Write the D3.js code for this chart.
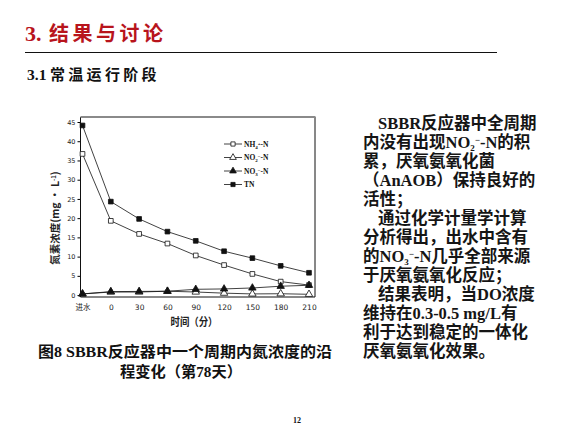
<!DOCTYPE html>
<html>
<head>
<meta charset="utf-8">
<script src="https://cdn.jsdelivr.net/npm/d3@7"></script>
<style>
html, body { margin: 0; padding: 0; background: #fff; }
svg { display: block; }
text { font-family: "Liberation Serif", "Noto Sans CJK SC", serif; }
</style>
</head>
<body>
<div id="slide"></div>
<script>
// values (mg/L)
const categories = ["进水", "0", "30", "60", "90", "120", "150", "180", "210"];
const nh4 = [36.7, 19.3, 15.9, 13.4, 10.3, 7.8, 5.5, 3.5, 2.6];
const no2 = [0.3, 0.8, 0.8, 1.0, 0.8, 0.5, 0.3, 0.35, 0.2];
const no3 = [0.3, 0.9, 0.95, 1.0, 1.5, 1.6, 1.85, 2.3, 2.55];
const tn = [44.1, 24.3, 19.8, 16.5, 14.1, 11.4, 9.6, 7.6, 5.8];
const yTicks = [0, 5, 10, 15, 20, 25, 30, 35, 40, 45];

const seriesNames = ["NH_4^+-N", "NO_2^−-N", "NO_3^−-N", "TN"];
const bodyLines = [
    "SBBR反应器中全周期",
    "内没有出现NO_2^−-N的积",
    "累，厌氧氨氧化菌",
    "（AnAOB）保持良好的",
    "活性；",
    "通过化学计量学计算",
    "分析得出，出水中含有",
    "的NO_3^−-N几乎全部来源",
    "于厌氧氨氧化反应；",
    "结果表明，当DO浓度",
    "维持在0.3-0.5 mg/L有",
    "利于达到稳定的一体化",
    "厌氧氨氧化效果。"
];
const indented = [0, 5, 9];

var W = 576, H = 432;
var svg = d3.select("#slide").append("svg")
    .attr("width", W)
    .attr("height", H);

// write text with _x subscripts and ^x superscripts (small pixel shifts)
const richText = function (sel, str, small, down, up) {
    var re = /([_^])(.)/g, last = 0, m;
    while ((m = re.exec(str)) !== null) {
        if (m.index > last) sel.append("tspan").text(str.slice(last, m.index));
        sel.append("tspan")
            .attr("baseline-shift", m[1] == "_" ? (-down) + "px" : up + "px")
            .style("font-size", small)
            .text(m[2]);
        last = re.lastIndex;
    }
    if (last < str.length) sel.append("tspan").text(str.slice(last));
};

// ---- slide headings
var title = svg.append("text")
    .attr("y", 41)
    .style("font-size", "20px").style("font-weight", "bold")
    .attr("fill", "#b8141c");
title.append("tspan").attr("x", 25)
    .style("font-size", "22px")
    .text("3.");
title.append("tspan").attr("x", 49)
    .style("font-family", "'Noto Sans CJK SC'")
    .style("letter-spacing", "3.5px")
    .text("结果与讨论");
svg.append("line")
    .attr("x1", 25).attr("x2", 497)
    .attr("y1", 52.5).attr("y2", 52.5)
    .attr("stroke", "#111").attr("stroke-width", 1);
var sub = svg.append("text")
    .attr("y", 80)
    .style("font-size", "15px").style("font-weight", "bold")
    .attr("fill", "#111");
sub.append("tspan").attr("x", 27)
    .style("font-size", "15.5px")
    .text("3.1");
sub.append("tspan").attr("x", 50)
    .style("font-family", "'Noto Sans CJK SC'")
    .style("letter-spacing", "3.3px")
    .text("常温运行阶段");

// ---- chart
var x = d3.scalePoint()
    .domain(categories)
    .range([82.5, 309]);
var y = d3.scaleLinear()
    .domain([-0.5, 46.3])
    .range([297, 117]);

var frame = { left: 80.5, right: 315, top: 117, bottom: 297 };

var yAxis = svg.append("g")
    .attr("transform", "translate(" + frame.left + ",0)")
    .call(d3.axisLeft(y).tickValues(yTicks).tickSize(3).tickPadding(2));
yAxis.select(".domain").remove();
yAxis.selectAll("text")
    .style("font-family", "'DejaVu Sans'")
    .style("font-size", "6.5px").attr("fill", "#222");

var xAxis = svg.append("g")
    .attr("transform", "translate(0," + frame.bottom + ")")
    .call(d3.axisBottom(x).tickSize(0).tickPadding(8));
xAxis.select(".domain").remove();
xAxis.selectAll("text")
    .style("font-family", "'DejaVu Sans', 'Noto Sans CJK SC'")
    .style("font-size", "7.5px").attr("fill", "#222");

// frame
svg.append("path")
    .attr("d", "M" + frame.left + "," + frame.top + "V" + frame.bottom + "H" + frame.right + "V" + frame.top)
    .attr("fill", "none").attr("stroke", "#111").attr("stroke-width", 1);
svg.append("line")
    .attr("x1", frame.left).attr("x2", frame.right + 0.5)
    .attr("y1", frame.top).attr("y2", frame.top)
    .attr("stroke", "#8a8a8a").attr("stroke-width", 2);

// series
var series = [
    { name: seriesNames[0], values: nh4, shape: d3.symbolSquare, fill: "#fff", size: 22 },
    { name: seriesNames[1], values: no2, shape: d3.symbolTriangle, fill: "#fff", size: 24 },
    { name: seriesNames[2], values: no3, shape: d3.symbolTriangle, fill: "#111", size: 24 },
    { name: seriesNames[3], values: tn, shape: d3.symbolSquare, fill: "#111", size: 22 }
];

var line = d3.line()
    .x(function (d, i) { return x(categories[i]); })
    .y(function (d) { return y(d); });

series.forEach(s => {
    svg.append("path")
        .attr("d", line(s.values))
        .attr("fill", "none")
        .attr("stroke", "#111")
        .attr("stroke-width", 0.8);
});
series.forEach(s => {
    svg.selectAll(null)
        .data(s.values)
        .enter()
        .append("path")
        .attr("d", d3.symbol().type(s.shape).size(s.size))
        .attr("transform", function (d, i) { return "translate(" + x(categories[i]) + "," + y(d) + ")"; })
        .attr("fill", s.fill)
        .attr("stroke", "#111")
        .attr("stroke-width", 0.8);
});

// legend
var legend = svg.append("g").attr("transform", "translate(224,144)");
series.forEach((s, i) => {
    var row = legend.append("g").attr("transform", "translate(0," + (i * 13.5) + ")");
    row.append("line")
        .attr("x1", 0).attr("x2", 18)
        .attr("stroke", "#111").attr("stroke-width", 0.8);
    row.append("path")
        .attr("d", d3.symbol().type(s.shape).size(s.size * 0.8))
        .attr("transform", "translate(9,0)")
        .attr("fill", s.fill).attr("stroke", "#111").attr("stroke-width", 0.8);
    var t = row.append("text")
        .attr("x", 20).attr("y", 2.5)
        .style("font-size", "7.5px").style("font-weight", "bold")
        .attr("fill", "#111");
    richText(t, s.name, "5px", 1.5, 2.5);
});

// axis titles
var yLabel = svg.append("text")
    .attr("transform", "translate(59,218) rotate(-90)")
    .attr("text-anchor", "middle")
    .style("font-family", "'Noto Sans CJK SC'")
    .style("font-size", "10.5px").style("font-weight", "bold")
    .attr("fill", "#222");
richText(yLabel, "氮素浓度(mg • L^-^1)", "6px", 2, 3);

svg.append("text")
    .attr("x", 194).attr("y", 326)
    .attr("text-anchor", "middle")
    .style("font-family", "'Noto Sans CJK SC'")
    .style("font-size", "11px").style("font-weight", "bold")
    .attr("fill", "#222")
    .attr("textLength", 47).attr("lengthAdjust", "spacingAndGlyphs")
    .text("时间（分）");

// caption
svg.append("text")
    .attr("x", 38).attr("y", 357)
    .style("font-size", "15px").style("font-weight", "bold")
    .attr("fill", "#111")
    .attr("textLength", 294).attr("lengthAdjust", "spacingAndGlyphs")
    .text("图8 SBBR反应器中一个周期内氮浓度的沿");
svg.append("text")
    .attr("x", 120).attr("y", 377)
    .style("font-size", "15px").style("font-weight", "bold")
    .attr("fill", "#111")
    .attr("textLength", 122).attr("lengthAdjust", "spacingAndGlyphs")
    .text("程变化（第78天）");

// page number
svg.append("text")
    .attr("x", 297).attr("y", 423)
    .attr("text-anchor", "middle")
    .style("font-size", "8px").style("font-weight", "bold")
    .attr("fill", "#111")
    .text("12");

// ---- right-hand notes
bodyLines.forEach((str, i) => {
    var t = svg.append("text")
        .attr("x", indented.indexOf(i) >= 0 ? 378 : 363)
        .attr("y", 128.5 + i * 19)
        .style("font-size", "16.5px").style("font-weight", "bold")
        .attr("fill", "#151515");
    richText(t, str, "9px", 2.5, 5.5);
});
</script>
</body>
</html>
